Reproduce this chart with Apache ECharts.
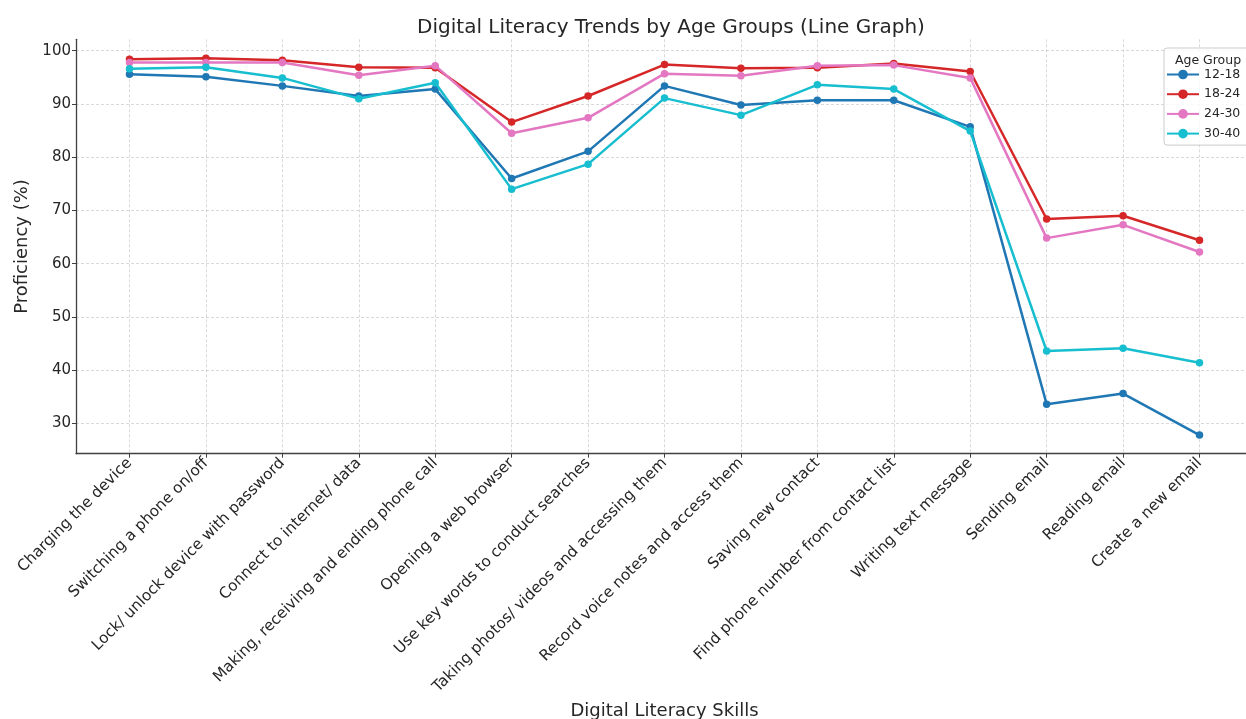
<!DOCTYPE html>
<html>
<head>
<meta charset="utf-8">
<script src="https://cdn.jsdelivr.net/npm/echarts@6/dist/echarts.min.js"></script>
<style>
html,body{margin:0;padding:0;background:#fff;}
#chart{width:1246px;height:719px;}
</style>
</head>
<body>
<div id="chart"></div>
<script>
const categories = [
  "Charging the device",
  "Switching a phone on/off",
  "Lock/ unlock device with password",
  "Connect to internet/ data",
  "Making, receiving and ending phone call",
  "Opening a web browser",
  "Use key words to conduct searches",
  "Taking photos/ videos and accessing them",
  "Record voice notes and access them",
  "Saving new contact",
  "Find phone number from contact list",
  "Writing text message",
  "Sending email",
  "Reading email",
  "Create a new email"
];
const seriesNames = ["12-18", "18-24", "24-30", "30-40"];
const age12_18 = [95.6, 95.1, 93.4, 91.5, 92.8, 76.0, 81.1, 93.4, 89.8, 90.7, 90.7, 85.7, 33.6, 35.6, 27.8];
const age18_24 = [98.4, 98.6, 98.2, 96.9, 96.8, 86.6, 91.5, 97.4, 96.7, 96.8, 97.6, 96.1, 68.4, 69.0, 64.4];
const age24_30 = [97.8, 97.8, 97.8, 95.4, 97.2, 84.5, 87.4, 95.7, 95.3, 97.2, 97.3, 94.9, 64.8, 67.3, 62.2];
const age30_40 = [96.6, 96.9, 94.9, 91.0, 94.0, 74.0, 78.7, 91.1, 87.9, 93.6, 92.8, 84.9, 43.6, 44.1, 41.4];
const yTicks = [30, 40, 50, 60, 70, 80, 90, 100];

const seriesValues = [age12_18, age18_24, age24_30, age30_40];
const colors = ["#1f77b4", "#d62728", "#e377c2", "#17becf"];
const xIdx = categories.map((c, i) => i);
const font = "DejaVu Sans";
const textColor = "#262626";

const chart = echarts.init(document.getElementById('chart'), null, {renderer: 'canvas'});
chart.setOption({
  animation: false,
  backgroundColor: '#ffffff',
  textStyle: {fontFamily: font},
  title: [
    {
      text: "Digital Literacy Trends by Age Groups (Line Graph)",
      left: 666, top: 13, textAlign: 'center',
      textStyle: {fontFamily: font, fontSize: 20, fontWeight: 'normal', color: textColor}
    },
    {
      text: "Age Group",
      left: 1203, top: 49, textAlign: 'center', z: 10,
      textStyle: {fontFamily: font, fontSize: 12.5, fontWeight: 'normal', color: textColor}
    }
  ],
  legend: {
    data: seriesNames,
    orient: 'vertical',
    left: 1164, top: 48,
    padding: [20, 30, 5, 2],
    itemWidth: 32, itemHeight: 12, itemGap: 6.7,
    backgroundColor: 'rgba(255,255,255,0.8)',
    borderColor: '#cccccc', borderWidth: 1, borderRadius: 3,
    textStyle: {fontFamily: font, fontSize: 12.5, color: textColor}
  },
  grid: {left: 76, right: -7, top: 39.3, bottom: 265.3, containLabel: false, outerBoundsMode: 'none'},
  xAxis: {
    type: 'value',
    min: -0.7, max: 14.7,
    name: "Digital Literacy Skills",
    nameLocation: 'middle', nameGap: 248,
    nameTextStyle: {fontFamily: font, fontSize: 18, color: textColor},
    axisLine: {show: true, onZero: false, lineStyle: {color: '#404040', width: 1.3}},
    axisTick: {show: true, customValues: xIdx, length: 4, inside: false, lineStyle: {color: '#404040'}},
    axisLabel: {
      customValues: xIdx, rotate: 45, margin: 7,
      fontFamily: font, fontSize: 15.3, color: textColor,
      formatter: v => categories[Math.round(v)] || ''
    },
    splitLine: {show: true, customValues: xIdx, lineStyle: {color: '#cfcfcf', type: [3, 2], width: 0.8}}
  },
  yAxis: {
    type: 'value',
    min: 24.3, max: 102.15,
    name: "Proficiency (%)",
    nameLocation: 'middle', nameGap: 38,
    nameTextStyle: {fontFamily: font, fontSize: 18, color: textColor},
    axisLine: {show: true, onZero: false, lineStyle: {color: '#404040', width: 1.3}},
    axisTick: {show: true, customValues: yTicks, length: 4, lineStyle: {color: '#404040'}},
    axisLabel: {customValues: yTicks, margin: 5, fontFamily: font, fontSize: 15, color: textColor},
    splitLine: {show: true, customValues: yTicks, lineStyle: {color: '#cfcfcf', type: [3, 2], width: 0.8}}
  },
  series: seriesNames.map((name, k) => ({
    name: name,
    type: 'line',
    data: seriesValues[k].map((v, i) => [i, v]),
    symbol: 'circle',
    symbolSize: 7.5,
    showSymbol: true,
    lineStyle: {width: 2.5, color: colors[k]},
    itemStyle: {color: colors[k]},
    emphasis: {disabled: true},
    z: 2 + k
  }))
});
</script>
</body>
</html>
